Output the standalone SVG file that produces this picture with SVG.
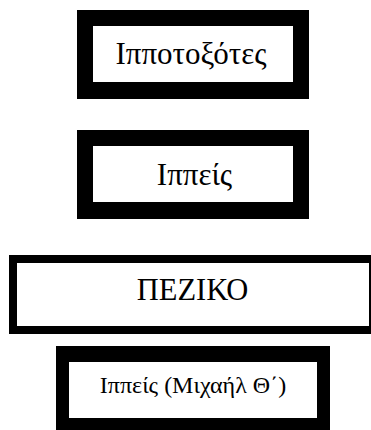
<svg xmlns="http://www.w3.org/2000/svg" width="371" height="430" viewBox="0 0 371 430">
<style>
.o{fill:#000}
.i{fill:#fff}
.t{font-family:"Liberation Serif","Times New Roman",serif;fill:#000;text-anchor:middle}
</style>
<rect width="371" height="430" fill="#fff"/>
<g id="n1">
<rect class="o" x="77" y="10" width="232" height="89"/>
<rect class="i" x="93" y="26" width="200" height="56"/>
<text class="t" x="191" y="64" font-size="31">Ιπποτοξότες</text>
</g>
<g id="n2">
<rect class="o" x="77" y="130" width="232" height="89"/>
<rect class="i" x="93" y="146" width="200" height="56"/>
<text class="t" x="194.5" y="185" font-size="31">Ιππείς</text>
</g>
<g id="n3">
<rect class="o" x="9" y="255" width="368" height="79"/>
<rect class="i" x="17" y="263" width="352" height="63"/>
<text class="t" x="192.5" y="300" font-size="30.5">ΠΕΖΙΚΟ</text>
</g>
<g id="n4">
<rect class="o" x="56" y="346" width="274" height="88"/>
<rect class="i" x="69" y="362" width="248" height="56"/>
<text class="t" x="193" y="393" font-size="24">Ιππείς (Μιχαήλ Θ΄)</text>
</g>
<g id="connectors"></g>
</svg>
